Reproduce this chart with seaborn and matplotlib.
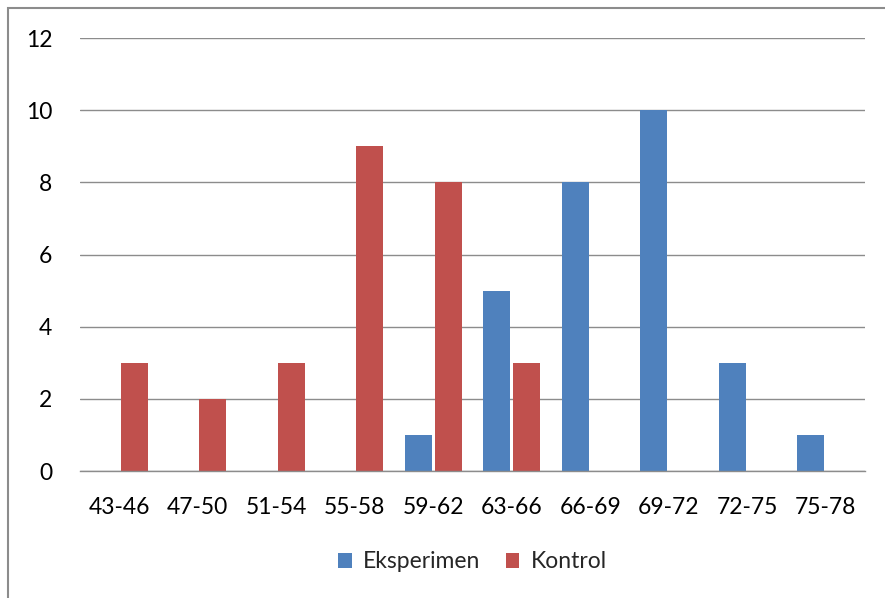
import matplotlib
matplotlib.use("Agg")
import matplotlib.pyplot as plt
import seaborn as sns
import pandas as pd
from matplotlib.patches import Rectangle

categories = ["43-46", "47-50", "51-54", "55-58", "59-62", "63-66", "66-69", "69-72", "72-75", "75-78"]
eksperimen = [0, 0, 0, 0, 1, 5, 8, 10, 3, 1]
kontrol = [3, 2, 3, 9, 8, 3, 0, 0, 0, 0]
series_names = ["Eksperimen", "Kontrol"]
colors = ["#4F81BD", "#C0504D"]

df = pd.DataFrame({
    "kategori": categories * 2,
    "nilai": eksperimen + kontrol,
    "seri": [series_names[0]] * len(categories) + [series_names[1]] * len(categories),
})

sns.set_theme(style="white")
plt.rcParams["font.family"] = ["Lato", "DejaVu Sans"]

FS = 16.5
W, H = 885, 598
fig = plt.figure(figsize=(W / 100, H / 100), dpi=100)
ax = fig.add_axes([80 / W, 1 - 471 / H, (865 - 80) / W, (471 - 38) / H])

sns.barplot(data=df, x="kategori", y="nilai", hue="seri", order=categories,
            hue_order=series_names, palette=colors, width=0.77, gap=0.1,
            saturation=1, linewidth=0, ax=ax, legend=True)

ax.set_ylim(0, 12)
ax.set_yticks(range(0, 13, 2))
ax.set_xlim(-0.5, len(categories) - 0.5)
ax.yaxis.grid(True, color="#8C8C8C", linewidth=1)
ax.set_axisbelow(True)
for s in ["top", "right", "left"]:
    ax.spines[s].set_visible(False)
ax.spines["bottom"].set_color("#8C8C8C")
ax.spines["bottom"].set_linewidth(1)
ax.tick_params(axis="both", length=0, labelsize=FS, colors="black")
ax.tick_params(axis="y", pad=20)
ax.tick_params(axis="x", pad=19)
ax.set_xlabel("")
ax.set_ylabel("")

leg = ax.legend(loc="center", bbox_to_anchor=(0.5, (1 - 562 / H - (1 - 471 / H)) / ((471 - 38) / H)),
                ncol=2, frameon=False, fontsize=FS, handlelength=0.6, handleheight=0.6,
                columnspacing=1.1, handletextpad=0.5)

border = Rectangle((8 / W, -0.1), 1.2, 1 - 8 / H + 0.1, transform=fig.transFigure,
                   fill=False, edgecolor="#8C8C8C", linewidth=1.5, clip_on=False)
fig.patches.append(border)

fig.savefig("out.png", dpi=100, facecolor="white")
